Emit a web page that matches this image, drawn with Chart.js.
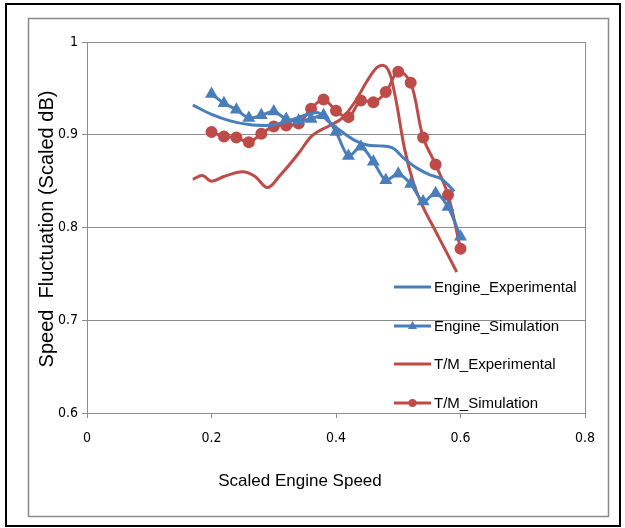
<!DOCTYPE html>
<html>
<head>
<meta charset="utf-8">
<script src="https://cdn.jsdelivr.net/npm/chart.js@4/dist/chart.umd.min.js"></script>
<style>
  html, body { margin: 0; padding: 0; background: #fff; }
  #myChart { display: block; }
</style>
</head>
<body>
<canvas id="myChart" width="625" height="528"></canvas>
<script>
// data
const simX = [0.20, 0.22, 0.24, 0.26, 0.28, 0.30, 0.32, 0.34, 0.36, 0.38, 0.40,
              0.42, 0.44, 0.46, 0.48, 0.50, 0.52, 0.54, 0.56, 0.58, 0.60];
const engineSim = [0.944, 0.934, 0.927, 0.918, 0.921, 0.925, 0.917, 0.915, 0.917, 0.921, 0.903,
                   0.877, 0.887, 0.871, 0.851, 0.858, 0.847, 0.828, 0.837, 0.822, 0.790];
const tmSim = [0.903, 0.898, 0.897, 0.892, 0.901, 0.909, 0.910, 0.912, 0.928, 0.938, 0.926,
               0.919, 0.937, 0.935, 0.946, 0.968, 0.956, 0.897, 0.868, 0.835, 0.777];

const engExpX = [0.17, 0.20, 0.23, 0.26, 0.29, 0.32, 0.35, 0.37, 0.39, 0.41, 0.43,
                 0.45, 0.47, 0.49, 0.51, 0.53, 0.55, 0.57, 0.59];
const engineExp = [0.932, 0.922, 0.915, 0.911, 0.910, 0.914, 0.921, 0.924, 0.913, 0.903, 0.894,
                   0.889, 0.888, 0.886, 0.874, 0.864, 0.857, 0.852, 0.839];

const tmExpX = [0.17, 0.185, 0.20, 0.22, 0.25, 0.27, 0.29, 0.31, 0.34, 0.36, 0.39, 0.41,
                0.43, 0.45, 0.465, 0.475, 0.487, 0.497, 0.51, 0.525, 0.54, 0.56, 0.594];
const tmExp = [0.852, 0.856, 0.850, 0.855, 0.860, 0.855, 0.843, 0.856, 0.880, 0.898, 0.910, 0.918,
               0.935, 0.958, 0.972, 0.975, 0.965, 0.935, 0.885, 0.847, 0.822, 0.796, 0.752];

const xTicks = [0, 0.2, 0.4, 0.6, 0.8];
const xTickLabels = ["0", "0.2", "0.4", "0.6", "0.8"];
const yTicks = [0.6, 0.7, 0.8, 0.9, 1];
const yTickLabels = ["0.6", "0.7", "0.8", "0.9", "1"];

const blue = "#4a7ebb";
const red = "#be4b48";
const gridGray = "#8c8c8c";
const narrow = "'Liberation Sans Narrow', 'DejaVu Sans Condensed', 'Liberation Sans', sans-serif";
const sans = "'Liberation Sans', Arial, sans-serif";

function pts(xs, ys) {
  return xs.map((x, i) => ({ x: x, y: ys[i] }));
}

// frame, axis titles and the legend inside the plot
const decor = {
  id: "decor",
  beforeDraw(chart) {
    const ctx = chart.ctx;
    ctx.save();
    ctx.fillStyle = "#fff";
    ctx.fillRect(0, 0, chart.width, chart.height);
    ctx.strokeStyle = "#000";
    ctx.lineWidth = 2;
    ctx.strokeRect(6, 4, 614, 522);
    ctx.strokeStyle = "#8a8a8a";
    ctx.lineWidth = 1.5;
    ctx.strokeRect(28.5, 18.5, 580, 498);
    ctx.restore();
  },
  afterDraw(chart) {
    const ctx = chart.ctx;
    ctx.save();
    ctx.fillStyle = "#000";
    ctx.textBaseline = "middle";
    ctx.textAlign = "center";
    ctx.font = "17px " + sans;
    ctx.fillText("Scaled Engine Speed", 300, 481);

    ctx.translate(47, 229);
    ctx.rotate(-Math.PI / 2);
    ctx.font = "20px " + sans;
    ctx.fillText("Speed  Fluctuation (Scaled dB)", 0, 0);
    ctx.restore();

    // legend
    ctx.save();
    const rows = [287, 326, 364, 403];
    chart.data.datasets.forEach((ds, i) => {
      const y = rows[i];
      ctx.strokeStyle = ds.borderColor;
      ctx.lineWidth = 3;
      ctx.beginPath();
      ctx.moveTo(394, y);
      ctx.lineTo(431, y);
      ctx.stroke();
      ctx.fillStyle = ds.borderColor;
      if (ds.pointStyle === "triangle") {
        ctx.beginPath();
        ctx.moveTo(412.5, y - 5);
        ctx.lineTo(417, y + 3);
        ctx.lineTo(408, y + 3);
        ctx.closePath();
        ctx.fill();
      } else if (ds.pointStyle === "circle" && ds.pointRadius > 0) {
        ctx.beginPath();
        ctx.arc(412.5, y, 4, 0, Math.PI * 2);
        ctx.fill();
      }
      ctx.fillStyle = "#000";
      ctx.font = "15px " + sans;
      ctx.textAlign = "left";
      ctx.textBaseline = "middle";
      ctx.fillText(ds.label, 434, y + 1);
    });
    ctx.restore();
  }
};

new Chart("myChart", {
  type: "line",
  data: {
    datasets: [
      {
        label: "Engine_Experimental",
        data: pts(engExpX, engineExp),
        borderColor: blue, backgroundColor: blue,
        borderWidth: 3, pointRadius: 0, pointStyle: "line",
        cubicInterpolationMode: "monotone"
      },
      {
        label: "Engine_Simulation",
        data: pts(simX, engineSim),
        borderColor: blue, backgroundColor: blue,
        borderWidth: 3, pointStyle: "triangle", pointRadius: 4.5,
        tension: 0.3
      },
      {
        label: "T/M_Experimental",
        data: pts(tmExpX, tmExp),
        borderColor: red, backgroundColor: red,
        borderWidth: 3, pointRadius: 0, pointStyle: "line",
        cubicInterpolationMode: "monotone"
      },
      {
        label: "T/M_Simulation",
        data: pts(simX, tmSim),
        borderColor: red, backgroundColor: red,
        borderWidth: 3, pointStyle: "circle", pointRadius: 4.5,
        tension: 0.35
      }
    ]
  },
  options: {
    responsive: false,
    animation: false,
    layout: { padding: { left: 0, top: 42, right: 40, bottom: 0 } },
    plugins: { legend: { display: false }, tooltip: { enabled: false } },
    scales: {
      x: {
        type: "linear", min: 0, max: 0.8,
        afterBuildTicks: s => { s.ticks = xTicks.map(v => ({ value: v })); },
        afterFit: s => { s.height = 115; },
        ticks: {
          color: "#000", padding: 12,
          font: { family: narrow, size: 14 },
          callback: (v, i) => xTickLabels[i]
        },
        grid: {
          color: c => (c.tick && c.tick.value === 0.8) ? gridGray : "rgba(0,0,0,0)",
          tickColor: gridGray, tickLength: 5, lineWidth: 1
        },
        border: { color: gridGray, width: 1 }
      },
      y: {
        type: "linear", min: 0.6, max: 1,
        afterBuildTicks: s => { s.ticks = yTicks.map(v => ({ value: v })); },
        afterFit: s => { s.width = 87; },
        ticks: {
          color: "#000", padding: 4,
          font: { family: narrow, size: 14 },
          callback: (v, i) => yTickLabels[i]
        },
        grid: { color: gridGray, tickColor: gridGray, tickLength: 5, lineWidth: 1 },
        border: { color: gridGray, width: 1 }
      }
    }
  },
  plugins: [decor]
});
</script>
</body>
</html>
